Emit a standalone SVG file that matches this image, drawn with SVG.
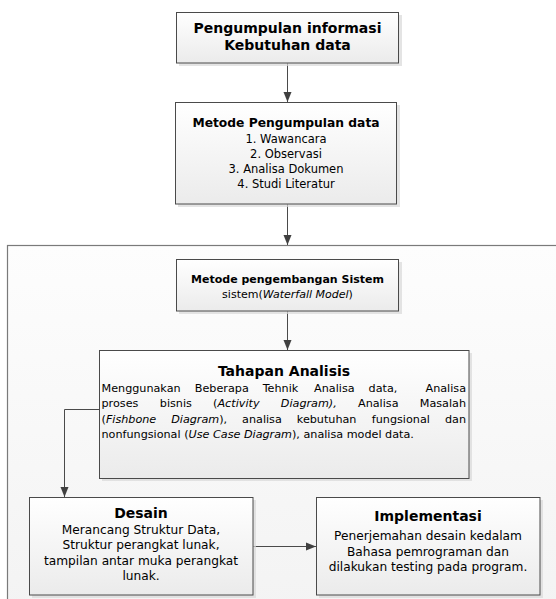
<svg xmlns="http://www.w3.org/2000/svg" width="556" height="599" viewBox="0 0 556 599">
  <style>
    text { font-family: "DejaVu Sans", Verdana, sans-serif; fill: #000; }
    .box { fill: url(#boxFill); stroke: #4a4a4a; stroke-width: 1; }
    .shadow { fill: #d9d9d9; opacity: 0.7; }
    .frame { fill: url(#frameFill); stroke: #7a7a7a; stroke-width: 1.2; }
    .conn { fill: none; stroke: #4a4a4a; stroke-width: 1; marker-end: url(#arrow); }
    .t14 { font-size: 14px; font-weight: bold; }
    .t12b { font-size: 12.3px; font-weight: bold; }
    .t11b { font-size: 11px; font-weight: bold; }
    .b11 { font-size: 11.5px; }
    .b11s { font-size: 11px; }
    .body { font-size: 11.2px; }
    .b12 { font-size: 12.2px; }
    .mid { text-anchor: middle; }
    .end { text-anchor: end; }
    .it { font-style: italic; }
  </style>
  <defs>
    <linearGradient id="boxFill" x1="0" y1="0" x2="0" y2="1">
      <stop offset="0" stop-color="#ffffff"/>
      <stop offset="1" stop-color="#ebebeb"/>
    </linearGradient>
    <linearGradient id="frameFill" x1="0" y1="0" x2="0" y2="1">
      <stop offset="0" stop-color="#fdfdfd"/>
      <stop offset="1" stop-color="#f3f3f3"/>
    </linearGradient>
    <marker id="arrow" markerUnits="userSpaceOnUse" markerWidth="10" markerHeight="10" viewBox="0 0 10 8" refX="10" refY="4" orient="auto">
      <path d="M0,0 L10,4 L0,8 Z" fill="#404040"/>
    </marker>
  </defs>

  <!-- outer frame holding the development stages -->
  <g id="frame">
    <rect class="frame" x="7.5" y="245.5" width="560" height="370"/>
  </g>

  <!-- connectors -->
  <g id="connectors">
    <path class="conn" d="M287.5,63 L287.5,102"/>
    <path class="conn" d="M287.5,204 L287.5,245"/>
    <path class="conn" d="M287.5,311 L287.5,350"/>
    <path class="conn" d="M99,409.5 L64.5,409.5 L64.5,497"/>
    <path class="conn" d="M253,546.5 L316,546.5"/>
  </g>

  <g id="node-informasi">
    <rect class="shadow" x="179" y="15" width="223" height="51"/>
    <rect class="box" x="176.5" y="12.5" width="222" height="50.5"/>
    <text class="t14 mid" x="287.5" y="33">Pengumpulan informasi</text>
    <text class="t14 mid" x="287.5" y="50">Kebutuhan data</text>
  </g>

  <g id="node-metode-pengumpulan">
    <rect class="shadow" x="178" y="105" width="222" height="102"/>
    <rect class="box" x="175.5" y="102.5" width="221" height="101.5"/>
    <text class="t12b mid" x="286" y="127">Metode Pengumpulan data</text>
    <text class="b11 mid" x="286" y="143">1. Wawancara</text>
    <text class="b11 mid" x="286" y="158">2. Observasi</text>
    <text class="b11 mid" x="286" y="173">3. Analisa Dokumen</text>
    <text class="b11 mid" x="286" y="188">4. Studi Literatur</text>
  </g>

  <g id="node-metode-pengembangan">
    <rect class="shadow" x="179" y="262" width="223" height="52"/>
    <rect class="box" x="176.5" y="259.5" width="222" height="51.5"/>
    <text class="t11b mid" x="287.5" y="283">Metode pengembangan Sistem</text>
    <text class="b11s mid" x="287.5" y="298">sistem(<tspan class="it">Waterfall Model</tspan>)</text>
  </g>

  <g id="node-analisis">
    <rect class="shadow" x="102" y="353" width="370" height="128"/>
    <rect class="box" x="99.5" y="350.5" width="369.5" height="128"/>
    <text class="t14 mid" x="284" y="376">Tahapan Analisis</text>
    <text class="body" y="391.5"><tspan x="101.5">Menggunakan</tspan><tspan x="194.8">Beberapa</tspan><tspan x="262.7">Tehnik</tspan><tspan x="314.1">Analisa</tspan><tspan x="368.6">data,</tspan></text>
    <text class="body end" x="466" y="391.5">Analisa</text>
    <text class="body" y="407"><tspan x="101.5">proses</tspan><tspan x="159.8">bisnis</tspan><tspan x="213.1">(<tspan class="it">Activity</tspan></tspan><tspan x="280.8" class="it">Diagram),</tspan><tspan x="358">Analisa</tspan></text>
    <text class="body end" x="466" y="407">Masalah</text>
    <text class="body" y="422.5"><tspan x="101.5">(<tspan class="it">Fishbone</tspan></tspan><tspan x="171.2" class="it">Diagram</tspan><tspan>),</tspan><tspan x="242.1">analisa</tspan><tspan x="296.8">kebutuhan</tspan><tspan x="371.8">fungsional</tspan></text>
    <text class="body end" x="466" y="422.5">dan</text>
    <text class="body" x="101.5" y="438">nonfungsional (<tspan class="it">Use Case Diagram</tspan>), analisa model data.</text>
  </g>

  <g id="node-desain">
    <rect class="shadow" x="32" y="500" width="224" height="98"/>
    <rect class="box" x="29.5" y="497.5" width="223.5" height="97.5"/>
    <text class="t14 mid" x="141" y="518">Desain</text>
    <text class="b12 mid" x="141" y="533.5">Merancang Struktur Data,</text>
    <text class="b12 mid" x="141" y="549">Struktur perangkat lunak,</text>
    <text class="b12 mid" x="141" y="564.5">tampilan antar muka perangkat</text>
    <text class="b12 mid" x="141" y="580">lunak.</text>
  </g>

  <g id="node-implementasi">
    <rect class="shadow" x="319" y="500" width="224" height="98"/>
    <rect class="box" x="316.5" y="497.5" width="223.5" height="97.5"/>
    <text class="t14 mid" x="428" y="521">Implementasi</text>
    <text class="b12 mid" x="428" y="540">Penerjemahan desain kedalam</text>
    <text class="b12 mid" x="428" y="555.5">Bahasa pemrograman dan</text>
    <text class="b12 mid" x="428" y="571">dilakukan testing pada program.</text>
  </g>
</svg>
